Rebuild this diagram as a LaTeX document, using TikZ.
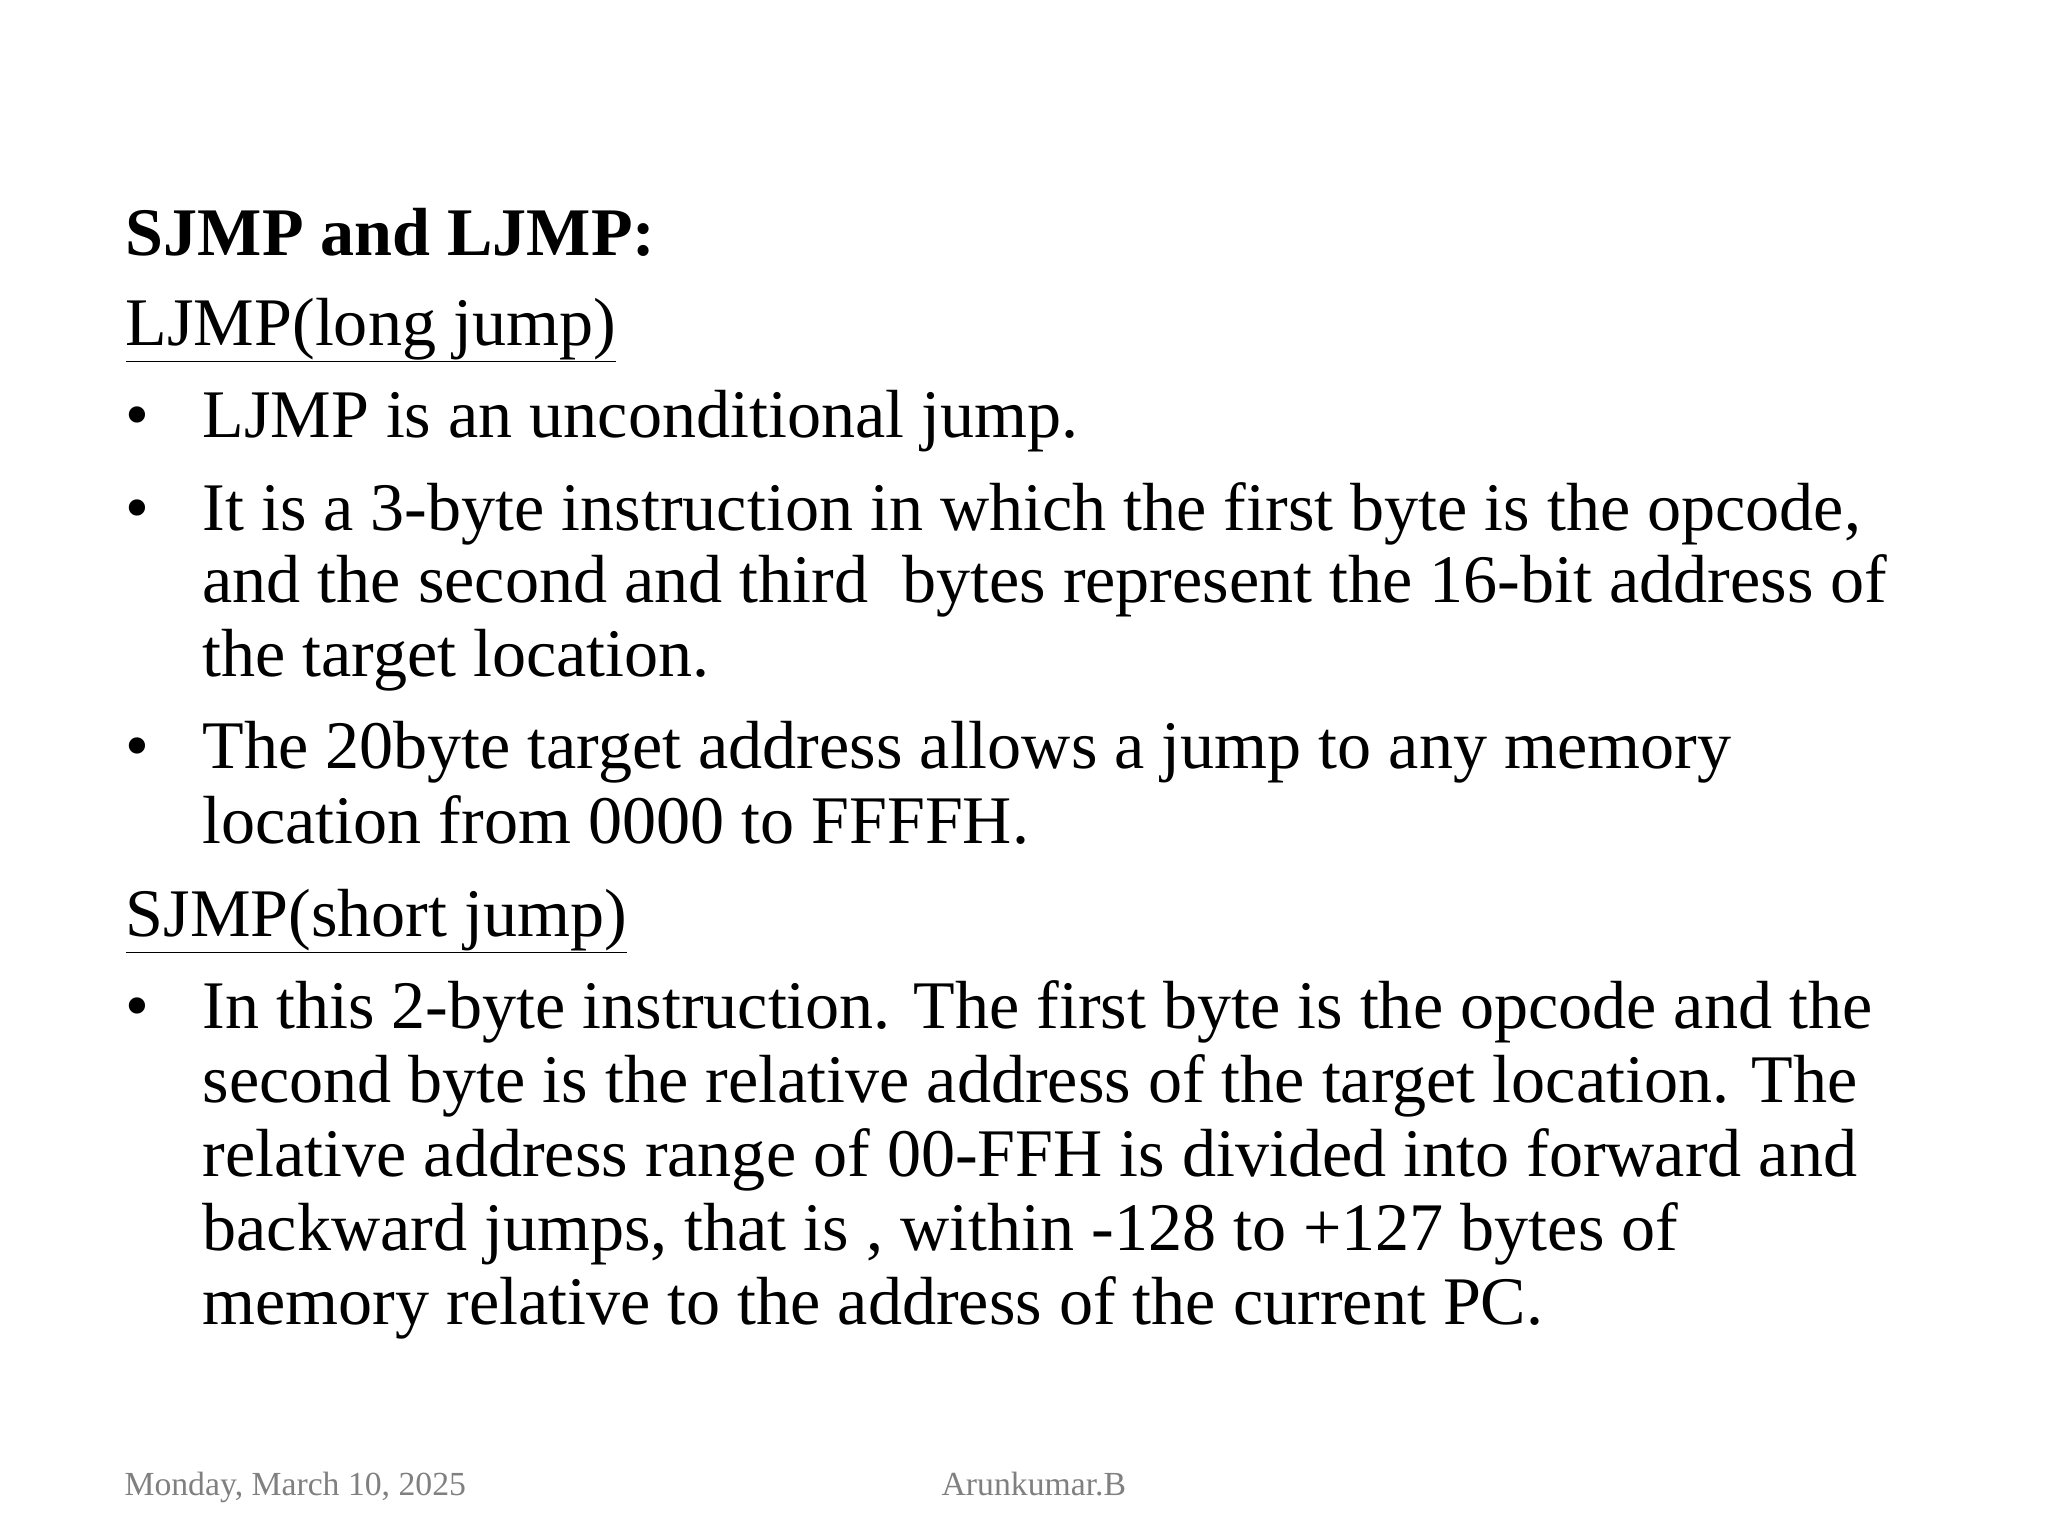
\documentclass[tikz,border=0pt]{standalone}
\usepackage{fontspec}
\setmainfont{Liberation Serif}
\begin{document}
\begin{tikzpicture}[x=1pt,y=-1pt,
  ln/.style={anchor=base west,inner sep=0pt,font=\fontsize{51.5}{60}\selectfont},
  ft/.style={anchor=base west,inner sep=0pt,text=gray,font=\fontsize{25.5}{30}\selectfont}]
\useasboundingbox[fill=white] (0,0) rectangle (1549,1162);
\node[ln,font=\fontsize{51.5}{60}\selectfont\bfseries] (t) at (95,193) {SJMP and LJMP:};
\node[ln] (h1) at (95,261) {\underline{LJMP(long jump)}};
\node[ln] (b1) at (95,331) {\textbullet};
\node[ln] (l1) at (153,331) {LJMP is an unconditional jump.};
\node[ln] (b2) at (95,401) {\textbullet};
\node[ln] (l2) at (153,401) {It is a 3-byte instruction in which the first byte is the opcode,};
\node[ln] (l3) at (153,456) {and the second and third\ \ bytes represent the 16-bit address of};
\node[ln] (l4) at (153,512) {the target location.};
\node[ln] (b3) at (95,581) {\textbullet};
\node[ln] (l5) at (153,581) {The 20byte target address allows a jump to any memory};
\node[ln] (l6) at (153,638) {location from 0000 to FFFFH.};
\node[ln] (h2) at (95,708) {\underline{SJMP(short jump)}};
\node[ln] (b4) at (95,778) {\textbullet};
\node[ln] (l7) at (153,778) {In this 2-byte instruction. The first byte is the opcode and the};
\node[ln] (l8) at (153,834) {second byte is the relative address of the target location. The};
\node[ln] (l9) at (153,890) {relative address range of 00-FFH is divided into forward and};
\node[ln] (l10) at (153,946) {backward jumps, that is , within -128 to +127 bytes of};
\node[ln] (l11) at (153,1002) {memory relative to the address of the current PC.};
\node[ft] (f1) at (94,1131) {Monday, March 10, 2025};
\node[ft] (f2) at (712,1131) {Arunkumar.B};
\end{tikzpicture}
\end{document}
